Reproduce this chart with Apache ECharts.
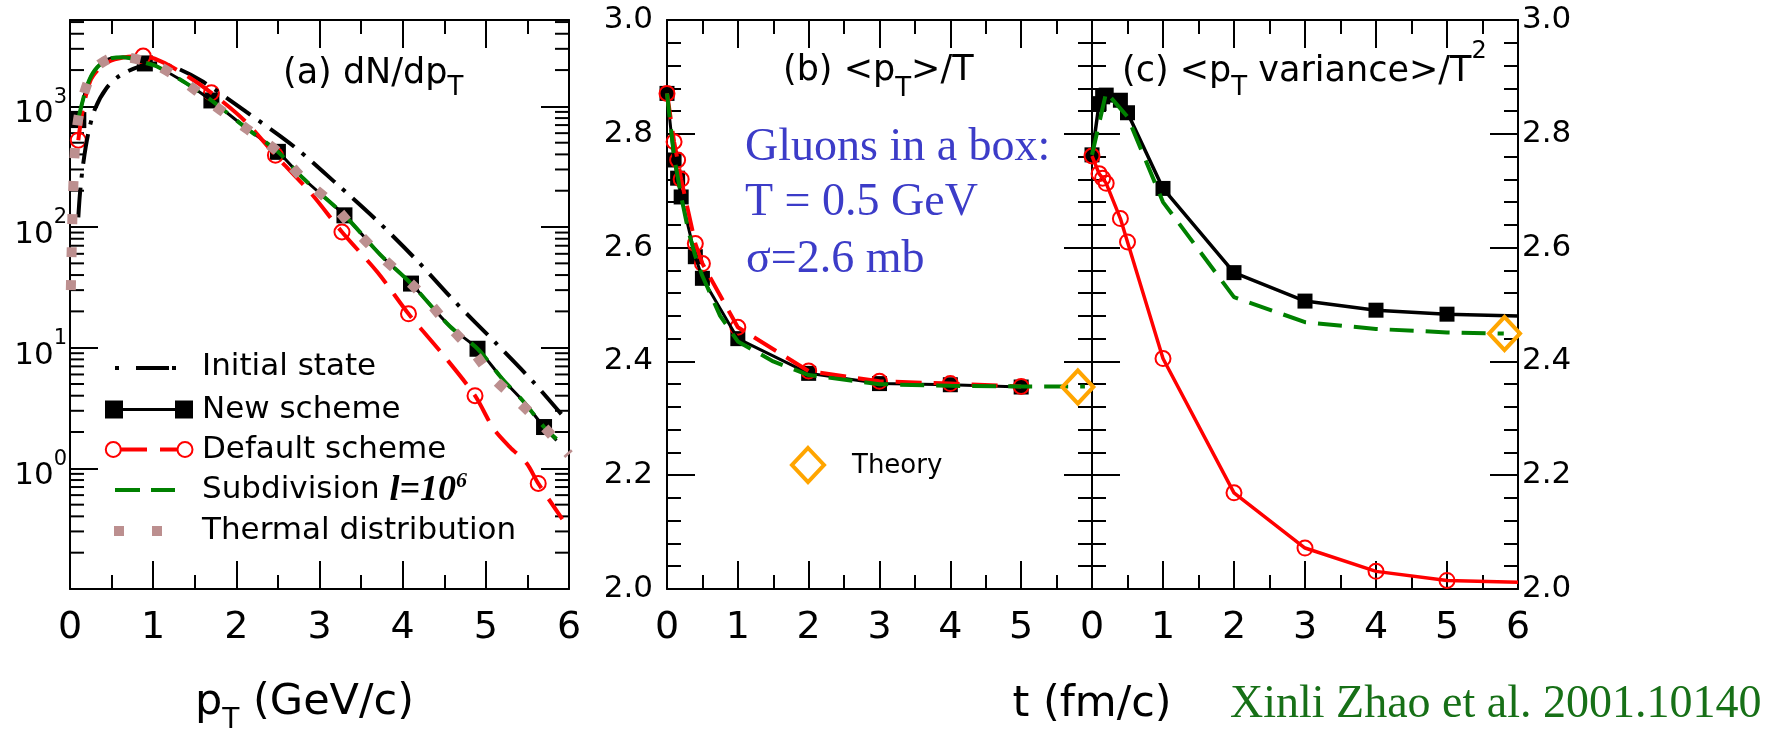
<!DOCTYPE html>
<html>
<head>
<meta charset="utf-8">
<script src="https://cdn.jsdelivr.net/npm/echarts@6/dist/echarts.min.js"></script>
<style>
html,body{margin:0;padding:0;background:#fff;}
#main{width:1783px;height:732px;}
</style>
</head>
<body>
<div id="main"></div>
<script>
// ---- panel (a): dN/dpT vs pT (log y) ----
var ptInitial = [[0.1,120],[0.12,190],[0.16,340],[0.22,600],[0.3,950],[0.44,1420],[0.6,1800],[0.84,2150],[1.05,2280],[1.3,2050],[1.6,1600],[2.12,900],[2.7,461],[3.2,230],[3.71,110],[4.17,53],[4.63,24],[5.11,11.1],[5.57,5.2],[5.93,2.7]];
var ptNewLine = [[0.1,770],[0.2,1450],[0.3,2000],[0.45,2450],[0.64,2560],[0.9,2300],[1.04,2150],[1.4,1550],[1.7,1120],[2.12,660],[2.5,420],[2.8,255],[3.3,125],[3.73,59],[4.1,34],[4.57,15],[4.9,9.8],[5.2,5.5],[5.45,3.6],[5.7,2.2],[5.85,1.7]];
var ptNewMarks = [[0.1,770],[0.9,2270],[1.7,1120],[2.5,420],[3.3,125],[4.1,34],[4.9,9.8],[5.7,2.2]];
var ptDefaultLine = [[0.1,525],[0.15,900],[0.24,1600],[0.35,2050],[0.5,2400],[0.7,2580],[0.88,2610],[1.1,2350],[1.4,1800],[1.7,1295],[2.1,760],[2.47,394],[2.9,190],[3.27,91],[3.7,42],[4.07,19.1],[4.5,8.5],[4.87,4.0],[5.09,2.15],[5.29,1.5],[5.49,1.1],[5.63,0.75],[5.92,0.38]];
var ptDefaultMarks = [[0.1,525],[0.88,2610],[1.7,1295],[2.47,394],[3.27,91],[4.07,19.1],[4.87,4.0],[5.63,0.75]];
var ptSubdiv = [[0.1,790],[0.2,1450],[0.3,2000],[0.45,2450],[0.64,2560],[0.9,2300],[1.04,2150],[1.4,1550],[1.7,1120],[2.12,660],[2.5,420],[2.8,255],[3.3,125],[3.73,59],[4.1,34],[4.57,15],[4.9,9.8],[5.2,5.5],[5.45,3.6],[5.7,2.2],[5.85,1.75]];
var ptThermal = [[0.01,30],[0.02,64],[0.03,130],[0.045,270],[0.07,560],[0.14,1090],[0.28,1970],[0.45,2450],[0.64,2560],[0.85,2420],[1.04,2200],[1.4,1550],[1.76,990],[2.12,656],[2.5,420],[2.8,252],[3.13,161],[3.41,98],[3.73,58],[4.1,34],[4.31,24],[4.57,14.8],[4.85,9.2],[5.09,5.6],[5.39,3.6],[5.7,2.2],[6.0,1.3]];

// ---- panel (b): <pT>/T vs t ----
var tSteps = [0,0.1,0.15,0.2,0.4,0.5,1,2,3,4,5];
var meanNew = [2.871,2.754,2.722,2.689,2.584,2.546,2.44,2.379,2.361,2.359,2.355];
var meanDefault = [2.871,2.786,2.754,2.72,2.607,2.572,2.46,2.383,2.365,2.361,2.356];
var tSubB = [0,0.1,0.2,0.3,0.4,0.5,0.75,1,1.5,2,3,4,5,5.9];
var meanSub = [2.871,2.76,2.69,2.63,2.585,2.55,2.48,2.435,2.40,2.376,2.36,2.357,2.356,2.356];
var theoryMean = [[5.8,2.355]];

// ---- panel (c): <pT variance>/T^2 vs t ----
var varNew = [2.763,2.853,2.865,2.868,2.859,2.837,2.704,2.556,2.506,2.49,2.483];
var varDefault = [2.761,2.730,2.722,2.713,2.651,2.610,2.405,2.169,2.072,2.031,2.015];
var varNewEnd = [6,2.480];
var varDefaultEnd = [6,2.012];
var tSubC = [0,0.2,0.5,1,2,3,4,5,5.8];
var varSub = [2.763,2.873,2.83,2.68,2.513,2.469,2.457,2.451,2.449];
var theoryVar = [[5.81,2.449]];

var FONT = 'DejaVu Sans';
var SERIF = 'Liberation Serif';
var RED = '#ff0000', GREEN = '#008000', ORANGE = '#ffa500', ROSY = '#bc8f8f';

function pairs(xs, ys){ return xs.map(function(x,i){ return [x, ys[i]]; }); }

var LOG_MAX = 5200;
var logMinorTicks = [];
for (var e = -1; e <= 3; e++) {
  for (var k = 2; k <= 9; k++) {
    var v = k * Math.pow(10, e);
    if (v < LOG_MAX) logMinorTicks.push([0, v]);
  }
}

// rich-text token: font size + how far its text is pushed down from the line top
function tok(size, pad, extra){
  var o = {fontSize:size, fontFamily:FONT, color:'#000', fill:'#000', verticalAlign:'top',
    padding:[pad,0,0,0], lineHeight:size + pad};
  for (var key in extra) o[key] = extra[key];
  return o;
}

var axLine = {show:true, onZero:false, lineStyle:{color:'#000', width:2}};
function xAx(grid, pos, showLabel, hideMax){
  return {
    type:'value', gridIndex:grid, position:pos, min:0, max:6, interval:1,
    axisLine:axLine,
    axisTick:{show:true, inside:true, length:28, lineStyle:{color:'#000', width:2}},
    minorTick:{show:true, splitNumber:2, length:14, lineStyle:{color:'#000', width:2}},
    splitLine:{show:false},
    axisLabel:{show:showLabel, margin:20, fontSize:38, fontFamily:FONT, color:'#000',
      formatter:function(v){ return (hideMax && v === 6) ? '' : String(v); }}
  };
}
function yLin(grid, pos, showLabel){
  return {
    type:'value', gridIndex:grid, position:pos, min:2, max:3, interval:0.2,
    axisLine:axLine,
    axisTick:{show:true, inside:true, length:28, lineStyle:{color:'#000', width:2}},
    minorTick:{show:true, splitNumber:5, length:14, lineStyle:{color:'#000', width:2}},
    splitLine:{show:false},
    axisLabel:{show:showLabel, margin:pos === 'left' ? 14 : 4, fontSize:31, fontFamily:FONT, color:'#000',
      formatter:function(v){ return v.toFixed(1); }}
  };
}
function yLog(pos, showLabel){
  return {
    type:'log', logBase:10, gridIndex:0, position:pos, min:0.1, max:LOG_MAX, splitNumber:5,
    axisLine:axLine,
    axisTick:{show:true, inside:true, length:28, lineStyle:{color:'#000', width:2}},
    minorTick:{show:false},
    splitLine:{show:false},
    axisLabel:{show:showLabel, margin:3, color:'#000',
      formatter:function(v){
        var l = Math.log10(v), n = Math.round(l);
        if (Math.abs(l - n) > 1e-6 || n < 0) return '';
        return '{b|10}{p|' + n + '}';
      },
      rich:{ b:tok(31,16), p:tok(21,4) }}
  };
}

function lineS(xi, data, color, width, type, smooth){
  return {type:'line', xAxisIndex:xi, yAxisIndex:xi, data:data, symbol:'none', showSymbol:false,
    smooth:smooth || false, silent:true,
    lineStyle:{color:color, width:width, type:type || 'solid', cap:'butt'}};
}
function squares(xi, data, size){
  return {type:'scatter', xAxisIndex:xi, yAxisIndex:xi, data:data, symbol:'rect', symbolSize:size,
    itemStyle:{color:'#000', opacity:1}, silent:true};
}
function circles(xi, data, size){
  return {type:'scatter', xAxisIndex:xi, yAxisIndex:xi, data:data, symbol:'circle', symbolSize:size,
    itemStyle:{color:'rgba(0,0,0,0)', borderColor:RED, borderWidth:2, opacity:1}, silent:true};
}
function diamonds(xi, data){
  return {type:'scatter', xAxisIndex:xi, yAxisIndex:xi, data:data, symbol:'diamond', symbolSize:[31,33],
    itemStyle:{color:'rgba(0,0,0,0)', borderColor:ORANGE, borderWidth:4, opacity:1}, silent:true, z:5};
}

var series = [
  {type:'custom', xAxisIndex:0, yAxisIndex:0, data:logMinorTicks, silent:true, clip:false,
    renderItem:function(params, api){
      var p = api.coord([0, api.value(1)]);
      var cs = params.coordSys;
      var st = {stroke:'#000', lineWidth:2};
      return {type:'group', children:[
        {type:'line', shape:{x1:cs.x, y1:p[1], x2:cs.x + 14, y2:p[1]}, style:st},
        {type:'line', shape:{x1:cs.x + cs.width - 14, y1:p[1], x2:cs.x + cs.width, y2:p[1]}, style:st}
      ]};
    }},
  lineS(0, ptInitial, '#000', 4, [30,10,4,10], 0.3),
  lineS(0, ptNewLine, '#000', 3, 'solid', 0.3),
  squares(0, ptNewMarks, 16),
  lineS(0, ptDefaultLine, RED, 4, [30,13], 0.3),
  circles(0, ptDefaultMarks, 15),
  lineS(0, ptSubdiv, GREEN, 4, [24,12], 0.3),
  lineS(0, ptThermal, ROSY, 10, [10,23], 0.3),

  lineS(2, pairs(tSteps, meanNew), '#000', 3),
  squares(2, pairs(tSteps, meanNew), 15),
  lineS(2, pairs(tSteps, meanDefault), RED, 4, [26,12]),
  circles(2, pairs(tSteps, meanDefault), 15),
  lineS(2, pairs(tSubB, meanSub), GREEN, 4, [24,12]),
  diamonds(2, theoryMean),

  lineS(4, pairs(tSteps, varNew).concat([varNewEnd]), '#000', 3.5),
  squares(4, pairs(tSteps, varNew), 15),
  lineS(4, pairs(tSteps, varDefault).concat([varDefaultEnd]), RED, 3.5),
  circles(4, pairs(tSteps, varDefault), 15),
  lineS(4, pairs(tSubC, varSub), GREEN, 4, [24,12]),
  diamonds(4, theoryVar)
];

function txt(x, y, text, size, opts){
  opts = opts || {};
  return {type:'text', x:x, y:y, z:100, silent:true,
    style:{text:text, fontSize:size, fontFamily:opts.family || FONT, fill:opts.color || '#000',
      align:opts.align || 'left', verticalAlign:opts.va || 'middle', rich:opts.rich}};
}

var serifBI = {fontFamily:SERIF, fontStyle:'italic', fontWeight:'bold'};
var graphics = [
  // panel titles
  txt(283, 54, '{m|(a) dN/dp}{s|T}', 35, {va:'top', rich:{m:tok(35,2), s:tok(26,21)}}),
  txt(783, 51, '{m|(b) <p}{s|T}{m|>/T}', 35, {va:'top', rich:{m:tok(35,2), s:tok(26,25)}}),
  txt(1122, 32, '{m|(c) <p}{s|T}{m| variance>/T}{p|2}', 35, {va:'top', rich:{m:tok(35,22), s:tok(26,43), p:tok(24,8)}}),
  // axis titles
  txt(195, 679, '{m|p}{s|T}{m| (GeV/c)}', 43, {va:'top', rich:{m:tok(43,2), s:tok(28,28)}}),
  txt(1092, 705, 't (fm/c)', 43, {align:'center'}),
  // annotation
  txt(745, 148, 'Gluons in a box:', 46, {family:SERIF, color:'#3c3cc8'}),
  txt(745, 203, 'T = 0.5 GeV', 46, {family:SERIF, color:'#3c3cc8'}),
  txt(746, 260, '\u03c3=2.6 mb', 46, {family:SERIF, color:'#3c3cc8'}),
  txt(1230, 705, 'Xinli Zhao et al. 2001.10140', 46, {family:SERIF, color:'#177017'}),
  // legend (a)
  {type:'rect', shape:{x:115, y:366, width:4, height:4}, style:{fill:'#000'}, z:100},
  {type:'line', shape:{x1:136, y1:368, x2:169, y2:368}, style:{stroke:'#000', lineWidth:4}, z:100},
  {type:'rect', shape:{x:172, y:366, width:4, height:4}, style:{fill:'#000'}, z:100},
  txt(202, 367, 'Initial state', 31),
  {type:'line', shape:{x1:110, y1:409.5, x2:188, y2:409.5}, style:{stroke:'#000', lineWidth:3}, z:100},
  {type:'rect', shape:{x:105, y:400.5, width:18, height:18}, style:{fill:'#000'}, z:100},
  {type:'rect', shape:{x:175, y:400.5, width:18, height:18}, style:{fill:'#000'}, z:100},
  txt(202, 409.5, 'New scheme', 31),
  {type:'line', shape:{x1:113, y1:449.5, x2:185, y2:449.5}, style:{stroke:RED, lineWidth:4, lineDash:[34,13]}, z:100},
  {type:'circle', shape:{cx:113.3, cy:449.5, r:7.5}, style:{stroke:RED, lineWidth:2, fill:'#fff'}, z:101},
  {type:'circle', shape:{cx:185, cy:449.5, r:7.5}, style:{stroke:RED, lineWidth:2, fill:'#fff'}, z:101},
  txt(202, 449.5, 'Default scheme', 31),
  {type:'line', shape:{x1:115, y1:490, x2:175, y2:490}, style:{stroke:GREEN, lineWidth:4, lineDash:[25,11]}, z:100},
  txt(202, 470, '{t|Subdivision }{i|l=10}{p|6}', 31, {va:'top', rich:{
    t:tok(31,4), i:tok(36,3,serifBI), p:tok(22,0,serifBI)}}),
  {type:'rect', shape:{x:114, y:526, width:10, height:10}, style:{fill:ROSY}, z:100},
  {type:'rect', shape:{x:152, y:526, width:10, height:10}, style:{fill:ROSY}, z:100},
  txt(202, 531, 'Thermal distribution', 31),
  // legend (b)
  {type:'polygon', shape:{points:[[808,448],[824,465],[808,482],[792,465]]}, style:{stroke:ORANGE, lineWidth:4, fill:'none'}, z:100},
  txt(852, 466, 'Theory', 26)
];

var option = {
  animation:false,
  backgroundColor:'#fff',
  grid:[
    {left:70, top:20, width:499, height:569},
    {left:667, top:20, width:425, height:569},
    {left:1092, top:20, width:426, height:569}
  ],
  xAxis:[xAx(0,'bottom',true,false), xAx(0,'top',false,false),
         xAx(1,'bottom',true,true), xAx(1,'top',false,false),
         xAx(2,'bottom',true,false), xAx(2,'top',false,false)],
  yAxis:[yLog('left',true), yLog('right',false),
         yLin(1,'left',true), yLin(1,'right',false),
         yLin(2,'left',false), yLin(2,'right',true)],
  series:series,
  graphic:graphics
};

var chart = echarts.init(document.getElementById('main'));
chart.setOption(option);
</script>
</body>
</html>
